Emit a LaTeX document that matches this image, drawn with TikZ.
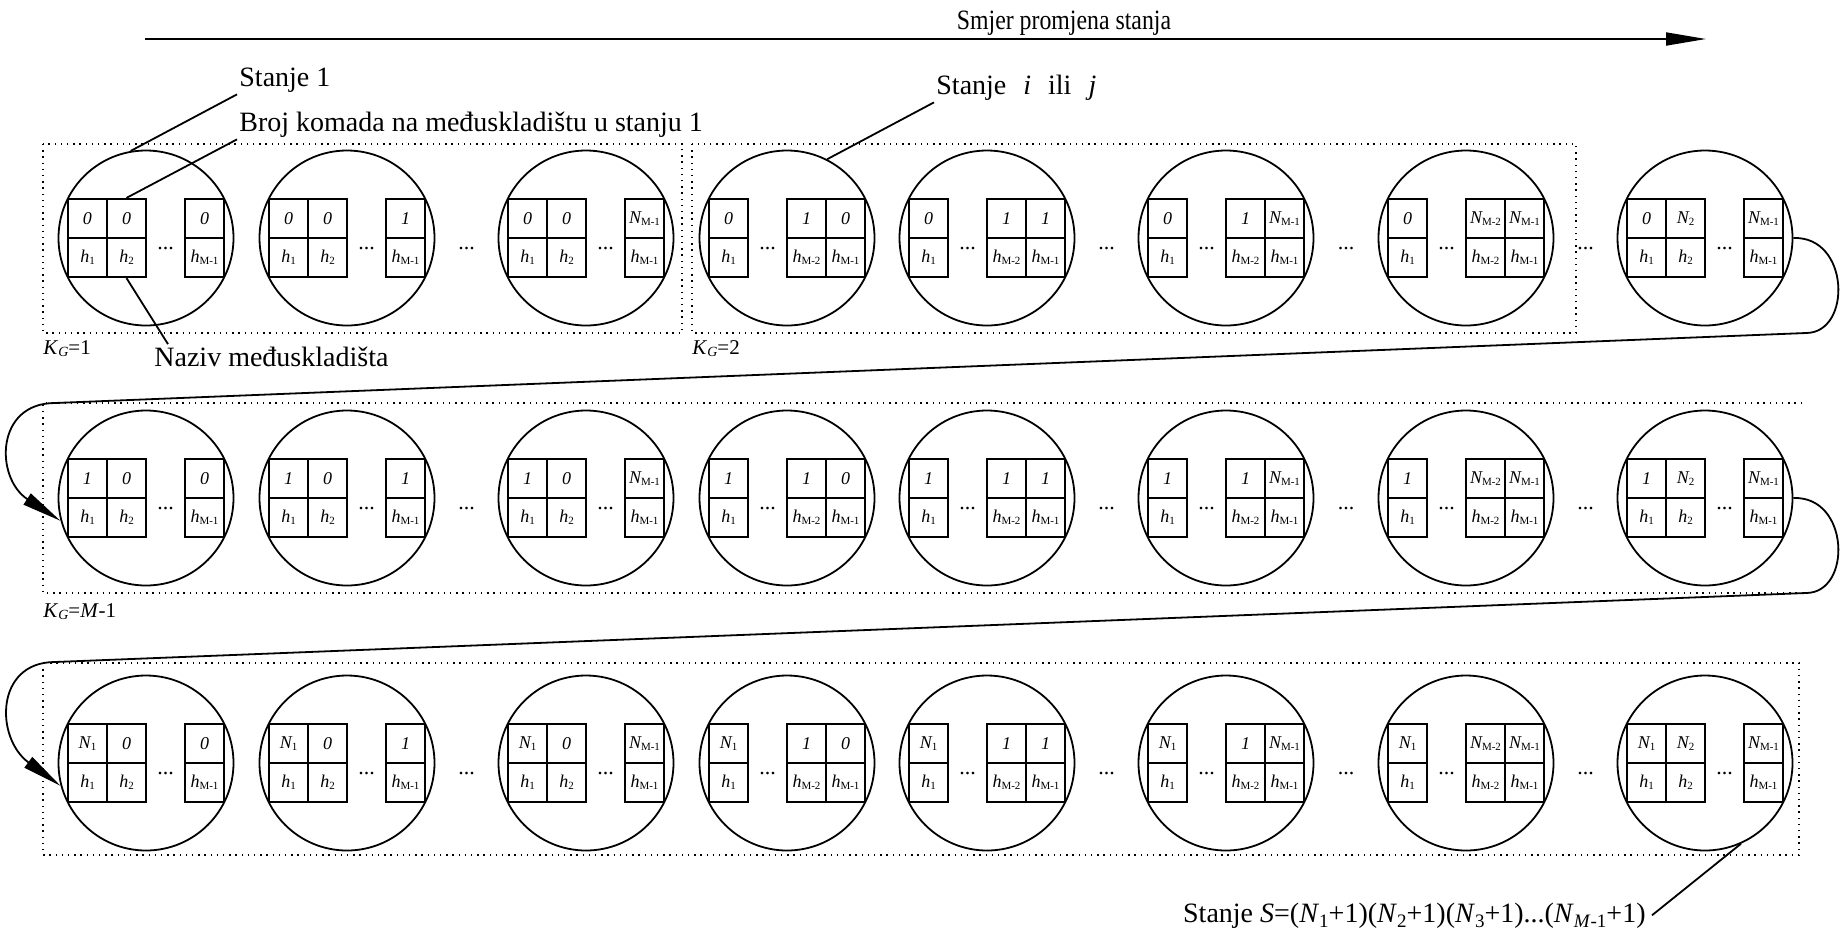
\documentclass[tikz,border=0pt]{standalone}
\usepackage{graphicx}
\usepackage{fontspec}
\setmainfont{Liberation Serif}
\usetikzlibrary{arrows.meta}
\newcommand\mySb[1]{\raisebox{-0.3ex}{\fontsize{5.5}{6}\selectfont\upshape #1}}
\newcommand\myH[1]{\textit{h}\mySb{#1}}
\newcommand\myN[1]{\textit{N}\mySb{#1}}
\newcommand\myBSb[1]{\raisebox{-0.4ex}{\fontsize{9.5}{10}\selectfont #1}}
% type A: two cells, dots, one cell
\newcommand\stA[6]{%
  \node[myst] (#1) at (#2,#3) {};
  \node[mycl] (#1a) at (#2-58.5,#3-19.5) {#4};
  \node[mycl] (#1b) at (#2-19.5,#3-19.5) {#5};
  \node[mycl] (#1c) at (#2+58.5,#3-19.5) {#6};
  \node[mycl] (#1d) at (#2-58.5,#3+19.5) {\myH{1}};
  \node[mycl] (#1e) at (#2-19.5,#3+19.5) {\myH{2}};
  \node[mycl] (#1f) at (#2+58.5,#3+19.5) {\myH{M-1}};
  \node[mydt] (#1g) at (#2+19.5,#3+11) {...};
}
% type B: one cell, dots, two cells
\newcommand\stB[6]{%
  \node[myst] (#1) at (#2,#3) {};
  \node[mycl] (#1a) at (#2-58.5,#3-19.5) {#4};
  \node[mycl] (#1b) at (#2+19.5,#3-19.5) {#5};
  \node[mycl] (#1c) at (#2+58.5,#3-19.5) {#6};
  \node[mycl] (#1d) at (#2-58.5,#3+19.5) {\myH{1}};
  \node[mycl] (#1e) at (#2+19.5,#3+19.5) {\myH{M-2}};
  \node[mycl] (#1f) at (#2+58.5,#3+19.5) {\myH{M-1}};
  \node[mydt] (#1g) at (#2-19.5,#3+11) {...};
}
\begin{document}
\begin{tikzpicture}[x=0.5pt,y=-0.5pt,
  myst/.style={circle,draw,line width=0.9pt,minimum size=87.5pt,inner sep=0pt},
  mycl/.style={draw,line width=1.1pt,minimum size=19.5pt,inner sep=0pt,font=\fontsize{9}{10}\selectfont\itshape},
  mydt/.style={font=\fontsize{11}{12}\selectfont,inner sep=0pt,anchor=base},
  mylbl/.style={font=\fontsize{14}{16}\selectfont,inner sep=1pt},
  mykg/.style={font=\fontsize{10.5}{12}\selectfont,inner sep=0pt,anchor=base west},
  mydot/.style={line width=0.7pt,dash pattern=on 0.7pt off 2.4pt},
  myln/.style={line width=0.9pt},
  myarrow/.style={-{Triangle[length=20pt,width=6.5pt]}}
]
\useasboundingbox (0,0) rectangle (1843,933);

% dotted group boxes
\draw[mydot] (43,144) rectangle (682,333);
\draw[mydot] (692,144) rectangle (1576,333);
\draw[mydot] (1802,403) -- (43,403) -- (43,593) -- (1805,593);
\draw[mydot] (43,663) rectangle (1799,855);

% top arrow
\coordinate (aS) at (145,39);
\coordinate (aE) at (1706,39);
\draw[myln,myarrow] (aS) -- (aE);
\node[mylbl,anchor=base] (smjer) at (1064,29) {\scalebox{0.85}[1]{Smjer promjena stanja}};

% row 1
\stA{r1c1}{146}{238}{0}{0}{0}
\stA{r1c2}{347}{238}{0}{0}{1}
\stA{r1c3}{586}{238}{0}{0}{\myN{M-1}}
\stB{r1c4}{787}{238}{0}{1}{0}
\stB{r1c5}{987}{238}{0}{1}{1}
\stB{r1c6}{1226}{238}{0}{1}{\myN{M-1}}
\stB{r1c7}{1466}{238}{0}{\myN{M-2}}{\myN{M-1}}
\stA{r1c8}{1705}{238}{0}{\myN{2}}{\myN{M-1}}
% row 2
\stA{r2c1}{146}{498}{1}{0}{0}
\stA{r2c2}{347}{498}{1}{0}{1}
\stA{r2c3}{586}{498}{1}{0}{\myN{M-1}}
\stB{r2c4}{787}{498}{1}{1}{0}
\stB{r2c5}{987}{498}{1}{1}{1}
\stB{r2c6}{1226}{498}{1}{1}{\myN{M-1}}
\stB{r2c7}{1466}{498}{1}{\myN{M-2}}{\myN{M-1}}
\stA{r2c8}{1705}{498}{1}{\myN{2}}{\myN{M-1}}
% row 3
\stA{r3c1}{146}{763}{\myN{1}}{0}{0}
\stA{r3c2}{347}{763}{\myN{1}}{0}{1}
\stA{r3c3}{586}{763}{\myN{1}}{0}{\myN{M-1}}
\stB{r3c4}{787}{763}{\myN{1}}{1}{0}
\stB{r3c5}{987}{763}{\myN{1}}{1}{1}
\stB{r3c6}{1226}{763}{\myN{1}}{1}{\myN{M-1}}
\stB{r3c7}{1466}{763}{\myN{1}}{\myN{M-2}}{\myN{M-1}}
\stA{r3c8}{1705}{763}{\myN{1}}{\myN{2}}{\myN{M-1}}

% dots between states
\foreach \r/\y in {1/238,2/498,3/763}{
  \node[mydt] (g\r a) at (466.5,\y+11) {...};
  \node[mydt] (g\r b) at (1106.5,\y+11) {...};
  \node[mydt] (g\r c) at (1346,\y+11) {...};
  \node[mydt] (g\r d) at (1585.5,\y+11) {...};
}

% group labels
\node[mykg] (kg1) at (43,354) {\textit{K}\raisebox{-0.3ex}{\fontsize{7}{8}\selectfont\textit{G}}=1};
\node[mykg] (kg2) at (692,354) {\textit{K}\raisebox{-0.3ex}{\fontsize{7}{8}\selectfont\textit{G}}=2};
\node[mykg] (kg3) at (43,617) {\textit{K}\raisebox{-0.3ex}{\fontsize{7}{8}\selectfont\textit{G}}=\textit{M}-1};

% annotations
\node[mylbl,anchor=base west] (t1) at (237,86) {Stanje 1};
\node[mylbl,anchor=base west] (t2) at (237,131) {Broj komada na međuskladištu u stanju 1};
\node[mylbl,anchor=base west] (t3) at (152,366) {Naziv međuskladišta};
\node[mylbl,anchor=base west] (tij) at (934,94) {Stanje\hspace{5pt} \textit{i}\hspace{5pt} ili\hspace{5pt} \textit{j}};
\node[mylbl,anchor=base east,inner sep=3pt] (tS) at (1652,922) {Stanje \textit{S}=(\textit{N}\myBSb{1}+1)(\textit{N}\myBSb{2}+1)(\textit{N}\myBSb{3}+1)...(\textit{N}\myBSb{\textit{M}-1}+1)};

\draw[myln] (r1c1.100) -- (t1.south west);
\draw[myln] (r1c1b.north) -- (t2.south west);
\draw[myln] (r1c1e.south) -- ([xshift=8pt]t3.north west);
\draw[myln] (r1c4.63) -- (tij.south west);
\draw[myln] (r3c8.294) -- (tS.east);

% row transitions
\coordinate (k1a) at (1806,333);
\coordinate (k1b) at (55,403);
\draw[myln,myarrow] (r1c8.east) .. controls (1850,236) and (1852,333) .. (k1a) -- (k1b) .. controls (-5,403) and (-5,478) .. (r2c1.195);
\coordinate (k2a) at (1806,593);
\coordinate (k2b) at (55,662);
\draw[myln,myarrow] (r2c8.east) .. controls (1850,496) and (1852,593) .. (k2a) -- (k2b) .. controls (-5,662) and (-5,738) .. (r3c1.195);
\end{tikzpicture}
\end{document}
